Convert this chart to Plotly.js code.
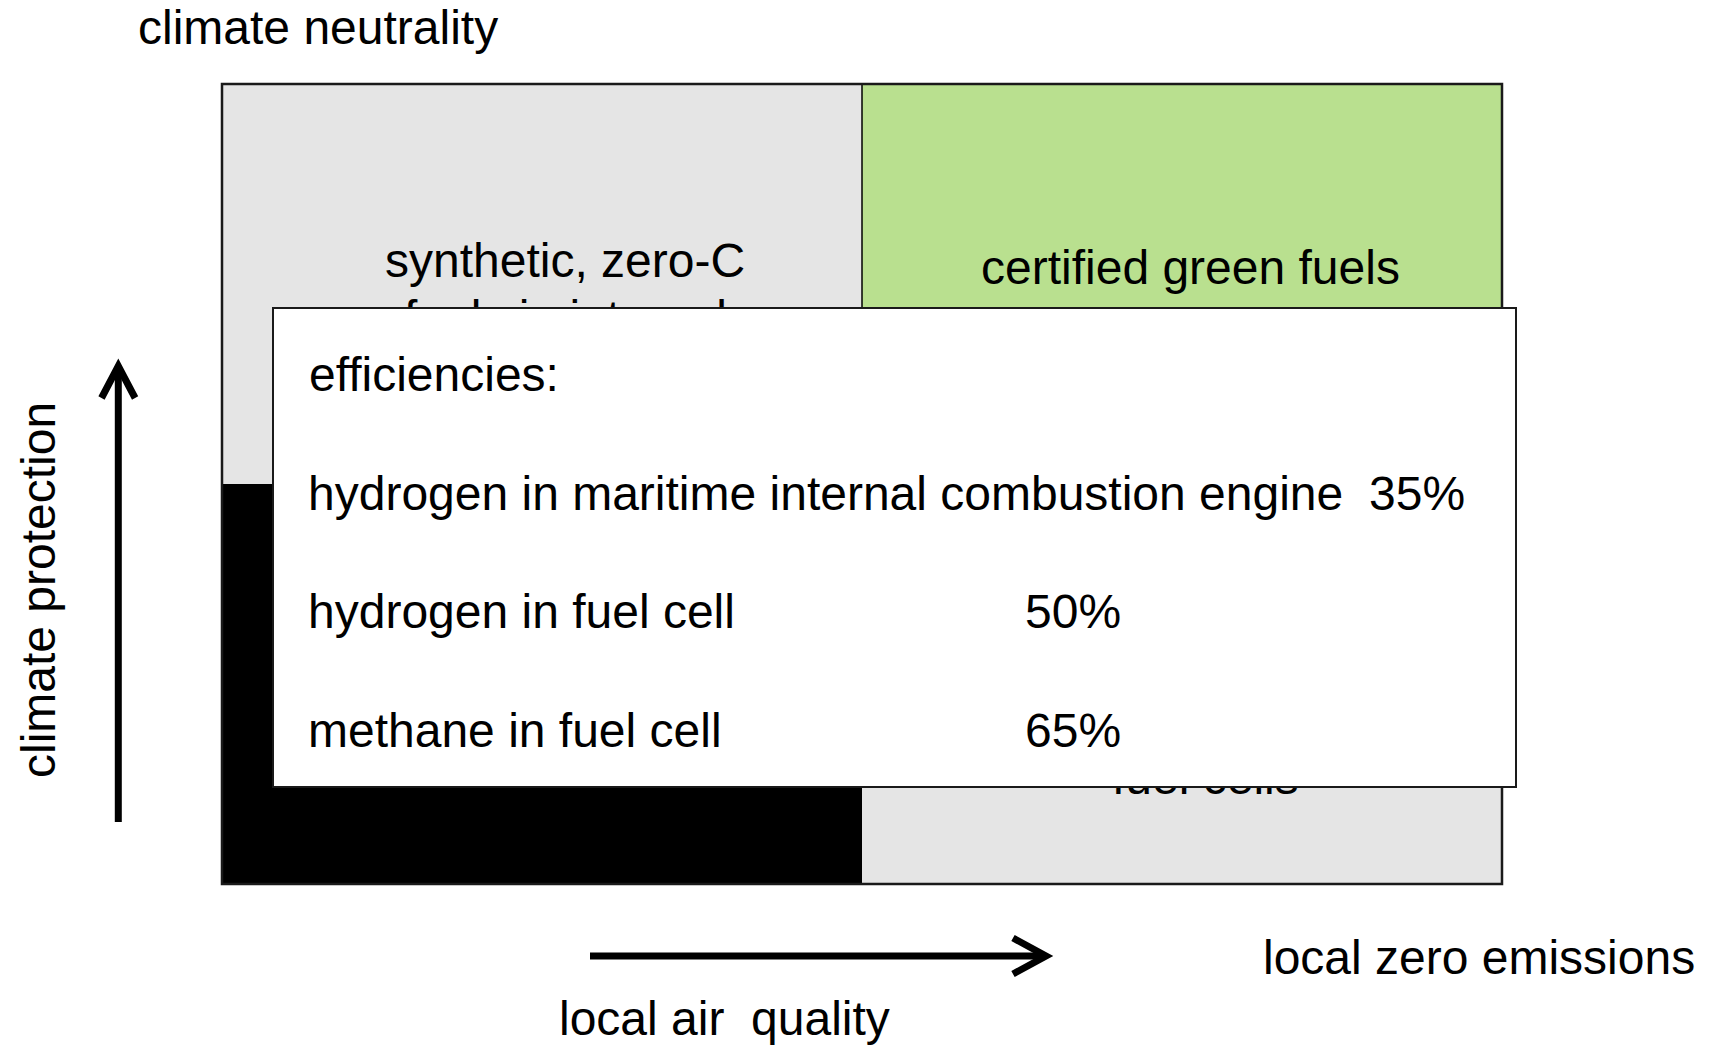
<!DOCTYPE html>
<html><head><meta charset="utf-8">
<script src="https://cdn.plot.ly/plotly-3.0.1.min.js"></script>
<style>html,body{margin:0;padding:0;background:#fff;overflow:hidden}#chart{width:1711px;height:1045px}</style>
</head><body><div id="chart"></div>
<script>
// ---- data ----
const quadrantX = [0.5, 1.5];            // local air quality -> local zero emissions
const quadrantY = [0.5, 1.5];            // climate protection -> climate neutrality
const quadrantKind = [[2, 0], [0, 1]];   // rows bottom->top: 0 neutral grey, 1 green, 2 black
const topLeftLabel = ['synthetic, zero-C', 'fuels in internal'];
const topRightLabel = ['certified green fuels'];
const bottomRightLabel = ['fuel cells'];
const topAxisLabel = 'climate neutrality';
const leftAxisLabel = 'climate protection';
const bottomAxisLabel = 'local air\u00a0 quality';
const rightAxisLabel = 'local zero emissions';
const efficiencyHeader = 'efficiencies:';
const efficiencyItems = ['hydrogen in maritime internal combustion engine', 'hydrogen in fuel cell', 'methane in fuel cell'];
const efficiencyValues = [35, 50, 65];

// ---- layout geometry (pixels) ----
const L = 222, T = 84, W = 1280, H = 800;
const PX = X => (X - L) / W;
const PY = Y => (T + H - Y) / H;
const FONT = {family: 'Liberation Sans, Arial, sans-serif', size: 48, color: '#000'};
const GREY = '#e5e5e5', GREEN = '#b9e08f', BLACK = '#000000';

const traces = [{
  type: 'heatmap', x: quadrantX, y: quadrantY, z: quadrantKind,
  zmin: 0, zmax: 2, showscale: false, hoverinfo: 'skip',
  colorscale: [[0, GREY], [0.5, GREEN], [1, BLACK]]
}];

function txt(text, X, Ycenter, anchor, extra) {
  return Object.assign({text: text, xref: 'paper', yref: 'paper', x: PX(X), y: PY(Ycenter),
    xanchor: anchor || 'left', yanchor: 'middle', showarrow: false, font: FONT,
    borderpad: 0, borderwidth: 0}, extra || {});
}

const ann = [];
// labels under the overlay box (partly hidden)
topLeftLabel.forEach((s, i) => ann.push(txt(s, 565, 260.4 + 57 * i, 'center')));
topRightLabel.forEach((s, i) => ann.push(txt(s, 1190, 267.7 + 57 * i, 'center')));
bottomRightLabel.forEach((s, i) => ann.push(txt(s, 1205, 777.7 + 57 * i, 'center')));
// overlay box
ann.push({text: ' ', xref: 'paper', yref: 'paper', x: PX(271.5), y: PY(307), xanchor: 'left', yanchor: 'top',
  showarrow: false, width: 1241, height: 477, bgcolor: '#ffffff', bordercolor: '#1a1a1a', borderwidth: 2, borderpad: 0,
  font: FONT});
// efficiency table
const rowY0 = 374.5, rowStep = 118.5;
const valueColumnX = [1369, 1025, 1025];
ann.push(txt(efficiencyHeader, 309, rowY0, 'left'));
efficiencyItems.forEach((s, i) => {
  ann.push(txt(s, 308, rowY0 + rowStep * (i + 1), 'left'));
  ann.push(txt(efficiencyValues[i] + '%', valueColumnX[i], rowY0 + rowStep * (i + 1), 'left'));
});
// axis descriptions
ann.push(txt(topAxisLabel, 138, 27.5, 'left'));
ann.push(txt(rightAxisLabel, 1263, 957, 'left'));
ann.push(txt(bottomAxisLabel, 559, 1018, 'left'));
ann.push(txt(leftAxisLabel, 38, 590, 'center', {textangle: -90}));

const shapes = [
  {type: 'line', xref: 'x', yref: 'y', x0: 1, x1: 1, y0: 1, y1: 2, line: {color: '#000', width: 1.5}},
  {type: 'rect', xref: 'paper', yref: 'paper', x0: 0, x1: 1, y0: 0, y1: 1, line: {color: '#1a1a1a', width: 2.5}},
  // vertical arrow
  {type: 'line', xref: 'paper', yref: 'paper', x0: PX(118.3), x1: PX(118.3), y0: PY(822), y1: PY(370), line: {color: '#000', width: 7}},
  {type: 'path', xref: 'paper', yref: 'paper', line: {color: '#000', width: 7},
   path: `M${PX(101.5)},${PY(398)} L${PX(118.3)},${PY(366)} L${PX(135.1)},${PY(398)}`},
  // horizontal arrow
  {type: 'line', xref: 'paper', yref: 'paper', x0: PX(590), x1: PX(1042), y0: PY(956), y1: PY(956), line: {color: '#000', width: 7}},
  {type: 'path', xref: 'paper', yref: 'paper', line: {color: '#000', width: 7},
   path: `M${PX(1013)},${PY(938)} L${PX(1046)},${PY(956)} L${PX(1013)},${PY(974)}`}
];

const axisHidden = {range: [0, 2], visible: false, fixedrange: true, showgrid: false, zeroline: false};
const layout = {
  width: 1711, height: 1045, margin: {l: L, r: 1711 - L - W, t: T, b: 1045 - T - H},
  paper_bgcolor: '#fff', plot_bgcolor: '#fff', showlegend: false,
  xaxis: Object.assign({}, axisHidden), yaxis: Object.assign({}, axisHidden),
  annotations: ann, shapes: shapes, font: FONT
};
Plotly.newPlot('chart', traces, layout, {staticPlot: true, displayModeBar: false});
</script></body></html>
